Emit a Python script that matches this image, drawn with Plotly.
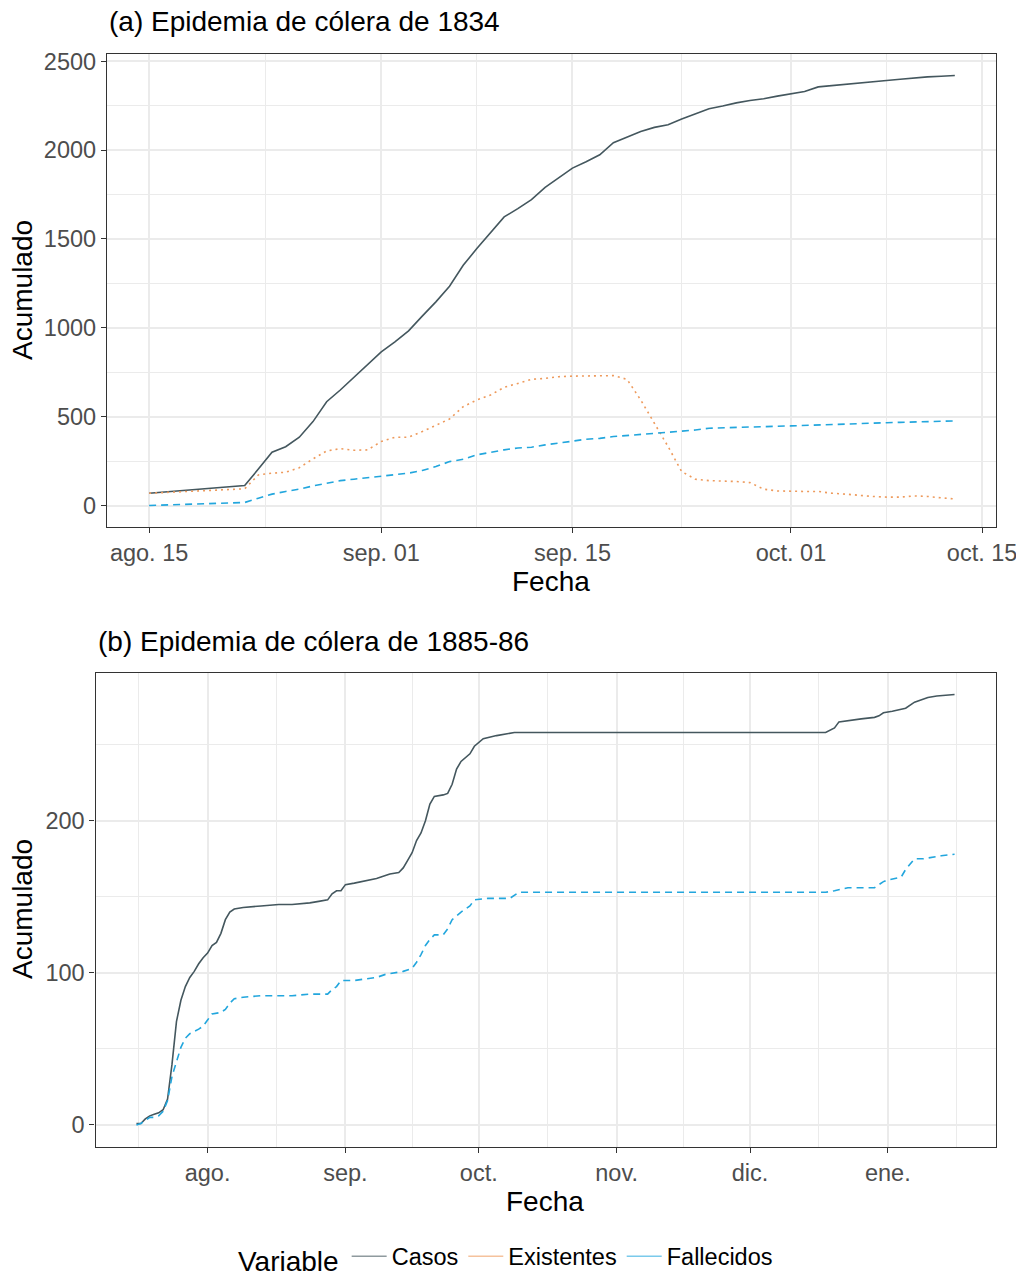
import datetime as dt
import plotly.graph_objects as go

# ---------------- Panel (a): 1834 ----------------
_start_a = dt.date(1834, 8, 22)
fechas_1834 = ["1834-08-15"] + [str(_start_a + dt.timedelta(days=i)) for i in range(53)]

casos_1834 = [69, 112, 205, 300, 331, 384, 472, 584, 650, 721, 790, 865, 921, 983,
              1066, 1146, 1234, 1352, 1446, 1534, 1624, 1671, 1721, 1790, 1846, 1899,
              1935, 1974, 2042, 2073, 2105, 2128, 2143, 2175, 2205, 2233, 2248, 2266,
              2279, 2289, 2304, 2317, 2330, 2356, 2364, 2369, 2377, 2384, 2392, 2399,
              2407, 2412, 2416, 2420]
existentes_1834 = [69, 94, 172, 182, 187, 213, 262, 307, 320, 311, 313, 360, 384, 384,
                   416, 450, 487, 556, 594, 622, 665, 687, 710, 715, 725, 728, 729, 731,
                   731, 710, 594, 463, 332, 191, 148, 140, 139, 135, 129, 92, 82, 79, 79,
                   79, 69, 64, 56, 51, 47, 47, 54, 51, 43, 37]
fallecidos_1834 = [0, 17, 41, 64, 79, 92, 110, 125, 140, 148, 157, 163, 172, 182, 197,
                   219, 247, 260, 285, 300, 313, 324, 328, 341, 350, 362, 373, 378, 388,
                   395, 403, 406, 412, 418, 425, 435, 438, 440, 442, 444, 446, 448, 451,
                   455, 457, 459, 461, 463, 466, 468, 470, 472, 474, 476]

ticks_a = ["1834-08-15", "1834-09-01", "1834-09-15", "1834-10-01", "1834-10-15"]
ticktext_a = ["ago. 15", "sep. 01", "sep. 15", "oct. 01", "oct. 15"]
minor_a = ["1834-08-23 12:00", "1834-09-08", "1834-09-23", "1834-10-08"]
yticks_a = [0, 500, 1000, 1500, 2000, 2500]
yminor_a = [250, 750, 1250, 1750, 2250]

# ---------------- Panel (b): 1885-86 ----------------
fechas_casos_1885 = ["1885-07-16", "1885-07-17", "1885-07-18", "1885-07-19", "1885-07-20",
                     "1885-07-21", "1885-07-22", "1885-07-23", "1885-07-24", "1885-07-25",
                     "1885-07-26", "1885-07-27", "1885-07-28", "1885-07-29", "1885-07-30",
                     "1885-07-31", "1885-08-01", "1885-08-02", "1885-08-03", "1885-08-04",
                     "1885-08-05", "1885-08-06", "1885-08-07", "1885-08-09", "1885-08-13",
                     "1885-08-17", "1885-08-20", "1885-08-24", "1885-08-26", "1885-08-28",
                     "1885-08-29", "1885-08-30", "1885-08-31", "1885-09-01", "1885-09-03",
                     "1885-09-06", "1885-09-08", "1885-09-10", "1885-09-11", "1885-09-13",
                     "1885-09-14", "1885-09-15", "1885-09-16", "1885-09-17", "1885-09-18",
                     "1885-09-19", "1885-09-20", "1885-09-21", "1885-09-23", "1885-09-24",
                     "1885-09-25", "1885-09-26", "1885-09-27", "1885-09-29", "1885-09-30",
                     "1885-10-02", "1885-10-05", "1885-10-09", "1885-12-18", "1885-12-20",
                     "1885-12-21", "1885-12-26", "1885-12-29", "1885-12-30", "1885-12-31",
                     "1886-01-02", "1886-01-05", "1886-01-07", "1886-01-10", "1886-01-12",
                     "1886-01-16"]
casos_1885 = [1, 1, 4, 6, 7, 8, 10, 17, 40, 68, 82, 91, 97, 101, 106, 110, 113, 118, 120,
              126, 135, 140, 142, 143, 144, 145, 145, 146, 147, 148, 152, 154, 154, 158,
              159, 161, 162, 164, 165, 166, 169, 174, 179, 187, 192, 200, 211, 216, 217,
              218, 224, 234, 239, 244, 249, 254, 256, 258, 258, 261, 265, 267, 268, 269,
              271, 272, 274, 278, 281, 282, 283]

fechas_fall_1885 = ["1885-07-16", "1885-07-17", "1885-07-18", "1885-07-19", "1885-07-20",
                    "1885-07-21", "1885-07-22", "1885-07-23", "1885-07-24", "1885-07-25",
                    "1885-07-26", "1885-07-27", "1885-07-28", "1885-07-30", "1885-07-31",
                    "1885-08-01", "1885-08-02", "1885-08-04", "1885-08-05", "1885-08-06",
                    "1885-08-07", "1885-08-09", "1885-08-13", "1885-08-20", "1885-08-24",
                    "1885-08-28", "1885-08-29", "1885-08-30", "1885-08-31", "1885-09-03",
                    "1885-09-06", "1885-09-08", "1885-09-10", "1885-09-12", "1885-09-14",
                    "1885-09-16", "1885-09-17", "1885-09-18", "1885-09-19", "1885-09-20",
                    "1885-09-21", "1885-09-23", "1885-09-24", "1885-09-25", "1885-09-27",
                    "1885-09-29", "1885-09-30", "1885-10-03", "1885-10-08", "1885-10-10",
                    "1885-12-18", "1885-12-20", "1885-12-23", "1885-12-29", "1885-12-31",
                    "1886-01-01", "1886-01-04", "1886-01-05", "1886-01-07", "1886-01-09",
                    "1886-01-11", "1886-01-13", "1886-01-16"]
fallecidos_1885 = [0, 1, 3, 5, 5, 6, 9, 16, 32, 41, 51, 57, 60, 63, 65, 69, 73, 74, 76, 80,
                   83, 84, 85, 85, 86, 86, 89, 91, 95, 95, 96, 97, 99, 100, 101, 103, 107,
                   112, 118, 122, 125, 125, 129, 135, 140, 144, 148, 149, 149, 153, 153,
                   154, 156, 156, 160, 161, 163, 168, 175, 175, 176, 177, 178]

ticks_b = ["1885-08-01", "1885-09-01", "1885-10-01", "1885-11-01", "1885-12-01", "1886-01-01"]
ticktext_b = ["ago.", "sep.", "oct.", "nov.", "dic.", "ene."]
minor_b = ["1885-07-16 12:00", "1885-08-16 12:00", "1885-09-16", "1885-10-16 12:00",
           "1885-11-16", "1885-12-16 12:00", "1886-01-16 12:00"]
yticks_b = [0, 100, 200]
yminor_b = [50, 150, 250]

variables = ["Casos", "Existentes", "Fallecidos"]
colores = {"Casos": "#44575E", "Existentes": "#EE9A5C", "Fallecidos": "#22A6DD"}
dashes = {"Casos": "solid", "Existentes": "2px,4px", "Fallecidos": "7px,5px"}

W, H = 1016, 1277
FONT = "Liberation Sans, Arial, sans-serif"
LW = 1.6
TICK_SIZE = 23.5
TITLE_SIZE = 28

def px(x):
    return x / W

def py(y):
    return 1 - y / H

fig = go.Figure()

series_a = {"Casos": casos_1834, "Existentes": existentes_1834, "Fallecidos": fallecidos_1834}
for v in variables:
    fig.add_trace(go.Scatter(x=fechas_1834, y=series_a[v], mode="lines", name=v,
                             line=dict(color=colores[v], width=LW, dash=dashes[v]),
                             xaxis="x", yaxis="y", showlegend=False))

series_b = {"Casos": (fechas_casos_1885, casos_1885),
            "Fallecidos": (fechas_fall_1885, fallecidos_1885)}
for v, (xs, ys) in series_b.items():
    fig.add_trace(go.Scatter(x=xs, y=ys, mode="lines", name=v,
                             line=dict(color=colores[v], width=LW, dash=dashes[v]),
                             xaxis="x2", yaxis="y2", showlegend=False))

# legend keys (solid, as in the reference)
for v in variables:
    fig.add_trace(go.Scatter(x=[None], y=[None], mode="lines", name=v,
                             line=dict(color=colores[v], width=LW),
                             xaxis="x", yaxis="y", showlegend=True, opacity=0.6))

tickfont = dict(family=FONT, size=TICK_SIZE, color="#4D4D4D")
common = dict(showline=True, mirror=True, linecolor="#333333", linewidth=1.3,
              ticks="outside", ticklen=5, tickwidth=1.3, tickcolor="#333333",
              showgrid=True, gridcolor="#EBEBEB", gridwidth=1.5, zeroline=False,
              tickfont=tickfont, automargin=False, fixedrange=True,
              ticklabeloverflow="allow")

def minor(vals):
    return dict(tickmode="array", tickvals=vals, showgrid=True, gridcolor="#EBEBEB",
                gridwidth=0.8, ticks="")

fig.update_layout(
    width=W, height=H, autosize=False,
    margin=dict(l=0, r=0, t=0, b=0, autoexpand=False),
    paper_bgcolor="white", plot_bgcolor="white",
    font=dict(family=FONT, color="black"),
    xaxis=dict(domain=[px(107), px(995.5)], anchor="y", type="date",
               range=["1834-08-11 22:00", "1834-10-15 23:30"],
               tickmode="array", tickvals=ticks_a, ticktext=ticktext_a,
               minor=minor(minor_a), **common),
    yaxis=dict(domain=[py(527), py(54)], anchor="x", range=[-121, 2541],
               tickmode="array", tickvals=yticks_a, minor=minor(yminor_a), **common),
    xaxis2=dict(domain=[px(95.5), px(995.5)], anchor="y2", type="date",
                range=["1885-07-06 19:00", "1886-01-25 05:00"],
                tickmode="array", tickvals=ticks_b, ticktext=ticktext_b,
                minor=minor(minor_b), **common),
    yaxis2=dict(domain=[py(1146.5), py(673)], anchor="x2", range=[-14.15, 297.15],
                tickmode="array", tickvals=yticks_b, minor=minor(yminor_b), **common),
    legend=dict(orientation="h", x=px(507), y=py(1258), xanchor="center", yanchor="middle",
                font=dict(family=FONT, size=TICK_SIZE, color="black"),
                title=dict(text="Variable", side="left", font=dict(family=FONT, size=TITLE_SIZE)),
                bgcolor="rgba(0,0,0,0)", itemwidth=35, tracegroupgap=0),
)

titles = [
    dict(text="(a) Epidemia de cólera de 1834", x=px(107), y=py(22), xanchor="left"),
    dict(text="(b) Epidemia de cólera de 1885-86", x=px(96), y=py(641), xanchor="left"),
    dict(text="Fecha", x=px(551), y=py(582), xanchor="center"),
    dict(text="Fecha", x=px(545), y=py(1201), xanchor="center"),
    dict(text="Acumulado", x=px(22), y=py(290), xanchor="center", textangle=-90),
    dict(text="Acumulado", x=px(22), y=py(909), xanchor="center", textangle=-90),
]
for t in titles:
    fig.add_annotation(xref="paper", yref="paper", showarrow=False, yanchor="middle",
                       font=dict(family=FONT, size=TITLE_SIZE, color="black"), **t)

# the page's default 8px body margin would shift the figure; remove it
fig.write_html("out.html", config={"displayModeBar": False},
               post_script="document.body.style.margin='0';")
